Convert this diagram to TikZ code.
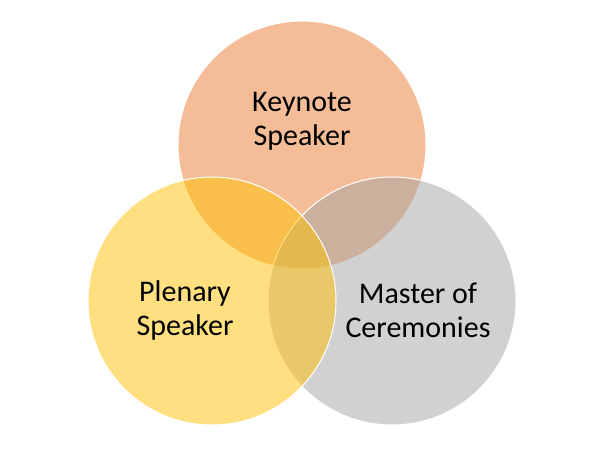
\documentclass[tikz,border=0pt]{standalone}
\usepackage{fontspec}
\setmainfont{Carlito}
\definecolor{cOrange}{HTML}{ED7D31}
\definecolor{cGold}{HTML}{FFC000}
\definecolor{cGray}{HTML}{A5A5A5}
\tikzset{
  venn/.style={circle, minimum size=248pt, inner sep=0pt, draw=white, line width=1pt, fill opacity=0.5},
  lbl/.style={align=center, font=\fontsize{30}{34}\selectfont, text=black}
}
\begin{document}
\begin{tikzpicture}[x=1pt,y=-1pt]
\useasboundingbox (0,0) rectangle (600,450);
\fill[white] (0,0) rectangle (600,450);
\node[venn, fill=cOrange] (top) at (302,145) {};
\node[venn, fill=cGray] (right) at (392,301) {};
\node[venn, fill=cGold] (left) at (212,301) {};
\node[lbl] (tk) at (302,121) {Keynote\\Speaker};
\node[lbl] (tl) at (185,310) {Plenary\\Speaker};
\node[lbl] (tr) at (418,310) {Master of\\Ceremonies};
\end{tikzpicture}
\end{document}
